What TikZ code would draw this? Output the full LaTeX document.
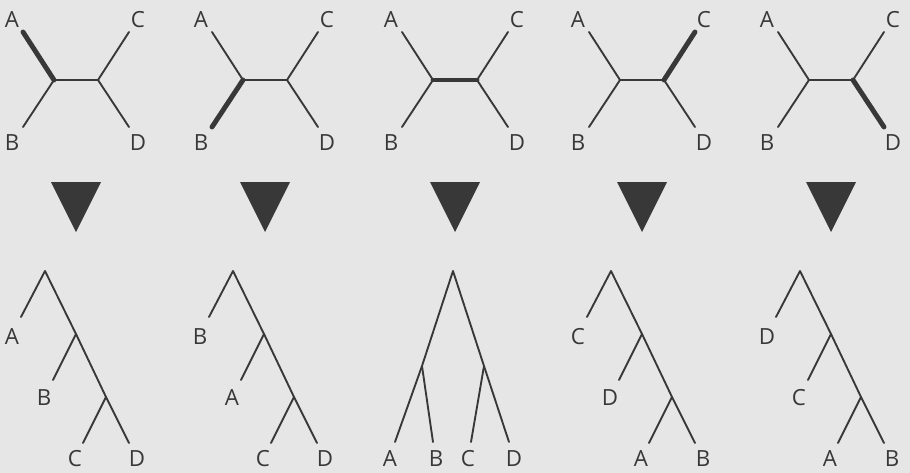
\documentclass[tikz,border=0pt]{standalone}
\usepackage{fontspec}
\setsansfont{Open Sans}
\usepackage{tikz}
\definecolor{ink}{HTML}{383838}
\definecolor{paper}{HTML}{E6E6E6}
\tikzset{
  every picture/.style={line join=round, line cap=round},
  branch/.style={draw=ink, line width=1.6pt},
  heavy/.style={draw=ink, line width=4.2pt},
  taxon/.style={text=ink, font=\sffamily\fontsize{19}{22}\selectfont, inner sep=0pt},
  pointer/.style={fill=ink},
}

\begin{document}
\begin{tikzpicture}[x=0.03cm, y=-0.03cm]
\fill[paper] (0,0) rectangle (910,473);
\useasboundingbox (0,0) rectangle (910,473);
\foreach \cx/\p/\q [count=\i] in {76/l/A, 265/l/B, 455/l/r, 642/r/C, 831/r/D}{
  \coordinate (u\i-l) at (\cx-22,80);
  \coordinate (u\i-r) at (\cx+22,80);
  \coordinate (u\i-A) at (\cx-53,32);
  \coordinate (u\i-B) at (\cx-53,127);
  \coordinate (u\i-C) at (\cx+53,32);
  \coordinate (u\i-D) at (\cx+53,127);
  \node[taxon] (ua\i) at (\cx-64,20) {A};
  \node[taxon] (ub\i) at (\cx-64,143) {B};
  \node[taxon] (uc\i) at (\cx+62,20) {C};
  \node[taxon] (ud\i) at (\cx+62,143) {D};
  \draw[branch] (u\i-A) -- (u\i-l) -- (u\i-B);
  \draw[branch] (u\i-l) -- (u\i-r);
  \draw[branch] (u\i-C) -- (u\i-r) -- (u\i-D);
  \draw[heavy] (u\i-\p) -- (u\i-\q);
  \fill[pointer] (\cx-25,182) -- (\cx+25,182) -- (\cx,232) -- cycle;
}
\foreach \rx/\a/\b/\c/\d [count=\i] in {45/A/B/C/D, 233/B/A/C/D, 611/C/D/A/B, 800/D/C/A/B}{
  \coordinate (r\i-0) at (\rx,271);
  \coordinate (r\i-1) at (\rx+31,334);
  \coordinate (r\i-2) at (\rx+61,397);
  \coordinate (r\i-a) at (\rx-24,317);
  \coordinate (r\i-b) at (\rx+8,380);
  \coordinate (r\i-c) at (\rx+38,443);
  \coordinate (r\i-d) at (\rx+84,443);
  \node[taxon] (ra\i) at (\rx-33,337) {\a};
  \node[taxon] (rb\i) at (\rx-1,398) {\b};
  \node[taxon] (rc\i) at (\rx+30,459) {\c};
  \node[taxon] (rd\i) at (\rx+92,459) {\d};
  \draw[branch] (r\i-a) -- (r\i-0) -- (r\i-1) -- (r\i-2) -- (r\i-d);
  \draw[branch] (r\i-1) -- (r\i-b);
  \draw[branch] (r\i-2) -- (r\i-c);
}
\coordinate (s-0) at (453,271);
\coordinate (s-l) at (422,366);
\coordinate (s-r) at (484,366);
\coordinate (s-A) at (395,442);
\coordinate (s-B) at (433,442);
\coordinate (s-C) at (471,442);
\coordinate (s-D) at (509,442);
\node[taxon] (sa) at (390,459) {A};
\node[taxon] (sb) at (436,459) {B};
\node[taxon] (sc) at (468,459) {C};
\node[taxon] (sd) at (514,459) {D};
\draw[branch] (s-A) -- (s-l) -- (s-0) -- (s-r) -- (s-D);
\draw[branch] (s-l) -- (s-B);
\draw[branch] (s-r) -- (s-C);
\end{tikzpicture}
\end{document}
